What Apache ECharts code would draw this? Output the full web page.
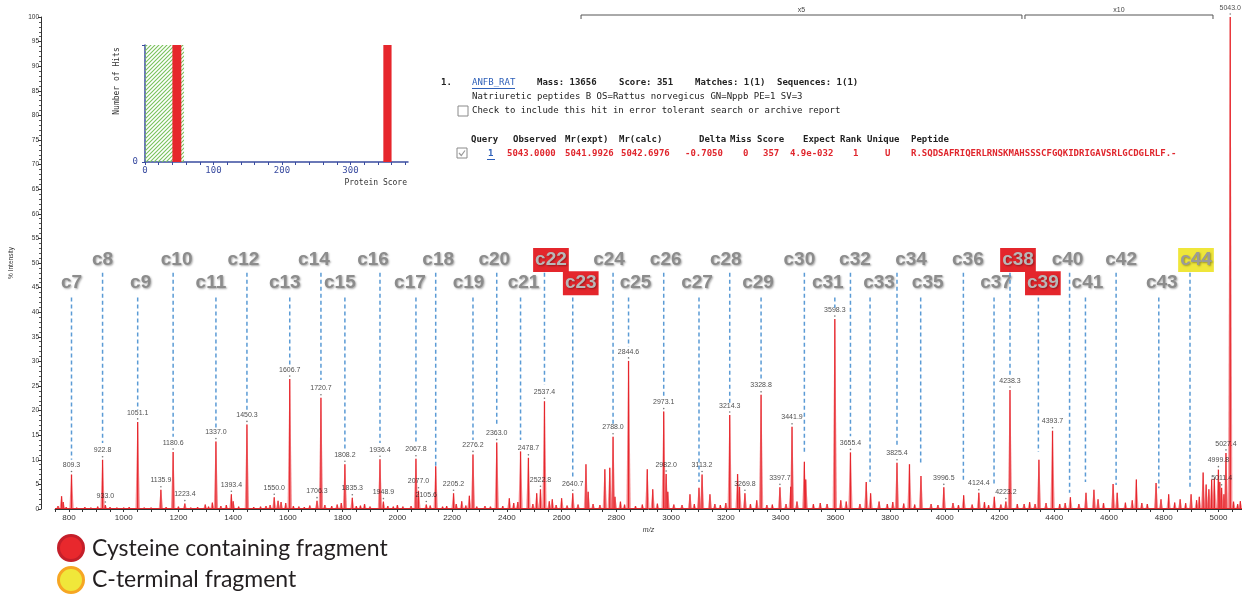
<!DOCTYPE html>
<html>
<head>
<meta charset="utf-8">
<script src="https://cdn.jsdelivr.net/npm/echarts@6/dist/echarts.min.js"></script>
<style>
html, body { margin: 0; padding: 0; background: #ffffff; }
#chart { width: 1242px; height: 597px; }
</style>
</head>
<body>
<div id="chart"></div>
<script>
// ---- MALDI spectrum: annotated peaks (m/z, % intensity) ----
const labeledMz = [809.3, 922.8, 933.0, 1051.1, 1135.9, 1180.6, 1223.4, 1337.0, 1393.4, 1450.3,
  1550.0, 1606.7, 1706.3, 1720.7, 1808.2, 1835.3, 1936.4, 1948.9, 2067.8, 2077.0,
  2105.6, 2205.2, 2276.2, 2363.0, 2478.7, 2522.8, 2537.4, 2640.7, 2788.0, 2844.6,
  2973.1, 2982.0, 3113.2, 3214.3, 3269.8, 3328.8, 3397.7, 3441.9, 3598.3, 3655.4,
  3825.4, 3996.5, 4124.4, 4223.2, 4238.3, 4393.7, 4999.8, 5011.4, 5027.4, 5043.0];
const labeledInt = [7.0, 10.0, 0.8, 17.7, 3.9, 11.6, 1.1, 13.7, 3.0, 17.2,
  2.4, 26.4, 1.7, 22.6, 9.1, 2.3, 10.1, 1.5, 10.2, 3.7,
  0.9, 3.2, 11.1, 13.5, 10.4, 4.0, 21.9, 3.2, 14.7, 30.1,
  19.8, 7.1, 7.0, 19.1, 3.2, 23.2, 4.4, 16.7, 38.6, 11.5,
  9.4, 4.4, 3.3, 1.5, 24.2, 15.9, 8.0, 4.3, 11.4, 100];

// ---- other visible peaks without a value label ----
const otherMz = [773, 779, 1298, 1324, 1400, 1564, 1592, 2140, 2263, 2409,
  2450, 2509, 2566, 2600, 2689, 2697, 2758, 2776, 2795, 2913,
  2933, 2988, 3069, 3102, 3142, 3243, 3250, 3313, 3437, 3487,
  3492, 3713, 3729, 3760, 3871, 3913, 4069, 4181, 4344, 4459,
  4516, 4545, 4615, 4630, 4700, 4772, 4818, 4900, 4944, 4955,
  4965, 4975, 4985, 5005, 5020];
const otherInt = [2.6, 1.4, 0.9, 1.3, 1.6, 1.7, 1.2, 8.7, 2.7, 2.2,
  11.7, 3.2, 2.0, 2.2, 9.1, 3.5, 8.1, 8.4, 2.5, 8.1,
  4.0, 3.5, 3.0, 4.3, 3.0, 7.1, 4.5, 1.8, 4.5, 9.6,
  6.0, 5.5, 3.2, 1.5, 9.1, 6.7, 2.8, 2.5, 10.0, 2.4,
  3.3, 3.9, 5.1, 3.3, 6.0, 5.3, 3.0, 3.0, 7.4, 5.0,
  4.0, 6.0, 6.2, 5.5, 3.0];

// ---- low-level baseline signals ----
const noiseMz = [760, 790, 828, 858, 880, 905, 950, 975, 1000, 1020, 1075, 1100, 1155, 1200, 1245,
  1270, 1310, 1355, 1375, 1420, 1475, 1500, 1520, 1535, 1575, 1620, 1640, 1660, 1680, 1735,
  1760, 1780, 1795, 1850, 1865, 1880, 1900, 1965, 1985, 2000, 2020, 2050, 2120, 2165, 2180,
  2215, 2235, 2250, 2290, 2320, 2340, 2385, 2425, 2440, 2495, 2555, 2580, 2620, 2660, 2715,
  2740, 2815, 2830, 2870, 2895, 2950, 3010, 3040, 3085, 3160, 3180, 3200, 3290, 3350, 3370,
  3420, 3460, 3520, 3545, 3570, 3620, 3640, 3690, 3790, 3810, 3850, 3890, 3950, 3975, 4030,
  4050, 4100, 4145, 4160, 4205, 4265, 4290, 4310, 4330, 4370, 4420, 4440, 4490, 4560, 4580,
  4660, 4685, 4720, 4740, 4790, 4840, 4860, 4880, 4920, 4930, 5055, 5070, 5080];
const noiseInt = [0.6, 0.4, 0.3, 0.4, 0.3, 0.5, 0.4, 0.3, 0.3, 0.4, 0.3, 0.3, 0.4, 0.5, 0.3,
  0.4, 0.5, 0.6, 0.8, 0.5, 0.4, 0.5, 0.6, 0.8, 1.4, 0.6, 0.5, 0.4, 0.7, 0.8,
  0.6, 0.9, 1.2, 0.6, 0.7, 1.0, 0.5, 0.6, 0.5, 0.8, 0.5, 0.6, 0.7, 0.5, 0.6,
  1.0, 1.6, 0.7, 0.5, 0.6, 0.5, 0.6, 1.2, 1.4, 1.0, 1.6, 0.8, 0.7, 0.9, 1.0,
  0.8, 1.5, 0.9, 0.6, 0.9, 1.1, 0.9, 0.8, 1.0, 1.0, 0.8, 1.2, 1.0, 0.8, 0.9,
  1.0, 1.5, 1.0, 1.2, 1.0, 1.8, 1.5, 1.0, 1.0, 1.4, 1.1, 0.9, 1.0, 0.8, 1.2,
  0.8, 0.9, 1.4, 0.8, 0.9, 1.0, 1.0, 1.4, 1.0, 1.2, 1.0, 1.2, 1.0, 2.0, 1.2,
  1.3, 1.8, 1.2, 1.0, 2.0, 1.3, 2.0, 1.2, 1.8, 2.5, 1.5, 1.0, 1.6];

// ---- c-ion ladder: fragment names, m/z, and where each dashed guide stops (% intensity) ----
const cIonNames = ['c7', 'c8', 'c9', 'c10', 'c11', 'c12', 'c13', 'c14', 'c15', 'c16',
  'c17', 'c18', 'c19', 'c20', 'c21', 'c22', 'c23', 'c24', 'c25', 'c26',
  'c27', 'c28', 'c29', 'c30', 'c31', 'c32', 'c33', 'c34', 'c35', 'c36',
  'c37', 'c38', 'c39', 'c40', 'c41', 'c42', 'c43', 'c44'];
const cIonMz = [809.3, 922.8, 1051.1, 1180.6, 1337.0, 1450.3, 1606.7, 1720.7, 1808.2, 1936.4,
  2067.8, 2140, 2276.2, 2363.0, 2450, 2537.4, 2640.7, 2788.0, 2844.6, 2973.1,
  3102, 3214.3, 3328.8, 3487, 3598.3, 3655.4, 3727, 3825.4, 3912, 4068,
  4180, 4238.3, 4342, 4456, 4514, 4626, 4782, 4896];
const cIonLineEnd = [10.0, 13.4, 20.1, 14.7, 16.4, 20.1, 29.3, 26.2, 12.3, 13.4,
  13.4, 8.5, 14.0, 16.7, 14.0, 25.2, 6.6, 16.7, 33.0, 22.8,
  5.5, 21.5, 25.9, 11.6, 40.9, 14.8, 5.5, 12.7, 9.3, 5.5,
  4.9, 26.9, 11.6, 3.3, 5.5, 4.9, 4.2, 4.2];
// fragment class: '' plain, 'cys' cysteine containing, 'cterm' C-terminal
const cIonClass = ['', '', '', '', '', '', '', '', '', '',
  '', '', '', '', '', 'cys', 'cys', '', '', '',
  '', '', '', '', '', '', '', '', '', '',
  '', 'cys', 'cys', '', '', '', '', 'cterm'];

// ---- axes ----
const xTickLabels = [800, 1000, 1200, 1400, 1600, 1800, 2000, 2200, 2400, 2600, 2800,
  3000, 3200, 3400, 3600, 3800, 4000, 4200, 4400, 4600, 4800, 5000];
const yTickLabels = [0, 5, 10, 15, 20, 25, 30, 35, 40, 45, 50, 55, 60, 65, 70, 75, 80, 85, 90, 95, 100];

// ---- zoom-factor brackets over the spectrum (m/z range) ----
const zoomBandStart = [2671, 4293];
const zoomBandEnd = [4282, 4980];
const zoomBandText = ['x5', 'x10'];

// ---- protein score histogram (inset) ----
const scoreBarFrom = [0, 40, 348];
const scoreBarTo = [57, 53, 360];
const scoreBarKind = ['threshold', 'hit', 'hit'];
const scoreTickLabels = [0, 100, 200, 300];

// ---------------- layout constants ----------------
const RED = '#e6262c';
const LADDER_LINE_TOP = [43.0, 48.0];   // lower row, upper row
const LADDER_LABEL_Y = [45.9, 50.6];
// horizontal nudge (px) of each ladder label relative to its guide line
const ladderLabelNudge = [0, 0, 3, 3.5, -5, -3.5, -5, -7, -5, -7,
  -6, 2.5, -4.5, -2.5, 3, 6.5, 8, -4, 7, 2,
  -2, -4, -3, -5, -7, 4.5, 9, 14, 7, 4.5,
  2, 8, 4.5, -2, 2, 5, 3, 6];

const xMinorTicks = [];
for (let v = 750; v <= 5050; v += 50) xMinorTicks.push(v);
const scoreTicks = [];
for (let v = 0; v <= 380; v += 20) scoreTicks.push(v);

const peakData = labeledMz.map((m, i) => [m, labeledInt[i]])
  .concat(otherMz.map((m, i) => [m, otherInt[i]]))
  .concat(noiseMz.map((m, i) => [m, noiseInt[i]]));
const labelData = labeledMz.map((m, i) => [m, labeledInt[i]]);
const ladderData = cIonMz.map((m, i) => [m, cIonLineEnd[i]]);
const bandData = zoomBandStart.map((s, i) => [s, zoomBandEnd[i]]);
const scoreData = scoreBarFrom.map((f, i) => [f, scoreBarTo[i]]);

// diagonal green hatch used for the random-match region of the histogram
const hatch = document.createElement('canvas');
hatch.width = 4; hatch.height = 4;
(function () {
  const g = hatch.getContext('2d');
  g.strokeStyle = '#79c25a';
  g.lineWidth = 1.1;
  g.beginPath();
  g.moveTo(0, 4); g.lineTo(4, 0);
  g.moveTo(-1, 1); g.lineTo(1, -1);
  g.moveTo(3, 5); g.lineTo(5, 3);
  g.stroke();
})();

function renderPeak(params, api) {
  const top = api.coord([api.value(0), api.value(1)]);
  const base = api.coord([api.value(0), 0]);
  return {
    type: 'group',
    children: [
      { type: 'polygon', shape: { points: [[base[0] - 2.2, base[1]], [top[0] - 0.3, top[1]], [top[0] + 0.3, top[1]], [base[0] + 2.2, base[1]]] },
        style: { fill: 'rgba(238, 70, 78, 0.6)' } },
      { type: 'line', shape: { x1: top[0], y1: top[1], x2: base[0], y2: base[1] },
        style: { stroke: RED, lineWidth: 1.3 } }
    ]
  };
}

function renderLadder(params, api) {
  const i = params.dataIndex;
  const row = i % 2;                 // 0 = lower row (odd c numbers), 1 = upper row
  const x = api.coord([api.value(0), 0])[0];
  const y0 = api.coord([api.value(0), LADDER_LINE_TOP[row]])[1];
  const y1 = api.coord([api.value(0), api.value(1)])[1];
  const yl = api.coord([api.value(0), LADDER_LABEL_Y[row]])[1];
  const kind = cIonClass[i];
  const textStyle = {
    text: cIonNames[i], x: x + ladderLabelNudge[i], y: yl,
    align: 'center', verticalAlign: 'middle',
    fontSize: 19, fontWeight: 'bold', fontFamily: 'Liberation Sans, Arial, sans-serif',
    fill: '#8c8c8c',
    textShadowColor: 'rgba(0,0,0,0.35)', textShadowBlur: 2, textShadowOffsetX: 1, textShadowOffsetY: 1
  };
  if (kind === 'cys') {
    textStyle.backgroundColor = '#e4262c';
    textStyle.padding = [3, 2, 2, 2];
    textStyle.fill = '#b8b8b8';
  } else if (kind === 'cterm') {
    textStyle.backgroundColor = '#efe63a';
    textStyle.padding = [3, 2, 2, 2];
    textStyle.fill = '#9a9a9a';
  }
  return {
    type: 'group',
    children: [
      { type: 'line', shape: { x1: x, y1: y0, x2: x, y2: y1 },
        style: { stroke: '#5b9bd5', lineWidth: 1.5, lineDash: [4, 3] } },
      { type: 'text', style: textStyle }
    ]
  };
}

function renderBand(params, api) {
  const a = api.coord([api.value(0), 100]);
  const b = api.coord([api.value(1), 100]);
  const y = a[1] - 2;
  return {
    type: 'group',
    children: [
      { type: 'polyline', shape: { points: [[a[0], y + 4], [a[0], y], [b[0], y], [b[0], y + 4]] },
        style: { stroke: '#555', lineWidth: 1, fill: null } },
      { type: 'text', style: { text: zoomBandText[params.dataIndex], x: (a[0] + b[0]) / 2, y: y - 5,
        align: 'center', verticalAlign: 'middle', fontSize: 7, fontFamily: 'Liberation Sans', fill: '#444' } }
    ]
  };
}

function renderScoreBar(params, api) {
  const p0 = api.coord([api.value(0), 1]);
  const p1 = api.coord([api.value(1), 0]);
  const kind = scoreBarKind[params.dataIndex];
  return {
    type: 'rect',
    shape: { x: p0[0], y: p0[1], width: p1[0] - p0[0], height: p1[1] - p0[1] },
    style: kind === 'hit' ? { fill: RED } : { fill: { image: hatch, repeat: 'repeat' } }
  };
}

const mono = '"DejaVu Sans Mono", "Liberation Mono", monospace';
function txt(x, y, text, opts) {
  opts = opts || {};
  return {
    type: 'text', x: x, y: y, silent: true, z: 50,
    style: {
      text: text,
      font: (opts.bold ? 'bold ' : '') + (opts.size || 9) + 'px ' + (opts.family || mono),
      fill: opts.color || '#222',
      align: opts.align || 'left',
      verticalAlign: 'middle'
    },
    rotation: opts.rotation || 0
  };
}
function box(x, y, checked) {
  const els = [{ type: 'rect', shape: { x: x, y: y, width: 10, height: 10 }, silent: true, z: 50,
    style: { fill: '#fff', stroke: '#8a8a8a', lineWidth: 1 } }];
  if (checked) {
    els.push({ type: 'polyline', shape: { points: [[x + 2, y + 5], [x + 4.3, y + 7.5], [x + 8, y + 2.5]] }, silent: true, z: 51,
      style: { stroke: '#9a9a9a', lineWidth: 1.2, fill: null } });
  }
  return els;
}

const mascotRed = '#e0262d';
const legendFont = 'Lato, "Open Sans", sans-serif';
const graphics = [].concat(
  // hit summary
  [txt(441, 83, '1.', { bold: true }),
   txt(472, 83, 'ANFB_RAT', { color: '#2d5fb8' }),
   { type: 'line', shape: { x1: 472, y1: 88.5, x2: 515, y2: 88.5 }, z: 50, style: { stroke: '#2d5fb8', lineWidth: 1 } },
   txt(537, 83, 'Mass: 13656', { bold: true }),
   txt(619, 83, 'Score: 351', { bold: true }),
   txt(695, 83, 'Matches: 1(1)', { bold: true }),
   txt(777, 83, 'Sequences: 1(1)', { bold: true }),
   txt(472, 97, 'Natriuretic peptides B OS=Rattus norvegicus GN=Nppb PE=1 SV=3'),
   txt(472, 111, 'Check to include this hit in error tolerant search or archive report')],
  box(458, 106, false),
  // peptide match table
  [txt(471, 140, 'Query', { bold: true }),
   txt(513, 140, 'Observed', { bold: true }),
   txt(565, 140, 'Mr(expt)', { bold: true }),
   txt(619, 140, 'Mr(calc)', { bold: true }),
   txt(699, 140, 'Delta', { bold: true }),
   txt(730, 140, 'Miss', { bold: true }),
   txt(757, 140, 'Score', { bold: true }),
   txt(803, 140, 'Expect', { bold: true }),
   txt(840, 140, 'Rank', { bold: true }),
   txt(867, 140, 'Unique', { bold: true }),
   txt(911, 140, 'Peptide', { bold: true }),
   txt(488, 154, '1', { color: '#2d5fb8', bold: true }),
   { type: 'line', shape: { x1: 487, y1: 159.5, x2: 495, y2: 159.5 }, z: 50, style: { stroke: '#2d5fb8', lineWidth: 1 } },
   txt(507, 154, '5043.0000', { bold: true, color: mascotRed }),
   txt(565, 154, '5041.9926', { bold: true, color: mascotRed }),
   txt(621, 154, '5042.6976', { bold: true, color: mascotRed }),
   txt(685, 154, '-0.7050', { bold: true, color: mascotRed }),
   txt(743, 154, '0', { bold: true, color: mascotRed }),
   txt(763, 154, '357', { bold: true, color: mascotRed }),
   txt(790, 154, '4.9e-032', { bold: true, color: mascotRed }),
   txt(853, 154, '1', { bold: true, color: mascotRed }),
   txt(885, 154, 'U', { bold: true, color: mascotRed }),
   txt(911, 154, 'R.SQDSAFRIQERLRNSKMAHSSSCFGQKIDRIGAVSRLGCDGLRLF.-', { bold: true, color: mascotRed })],
  box(457, 148, true),
  // inset axis titles
  [txt(407, 183, 'Protein Score', { size: 8, align: 'right', color: '#333' }),
   txt(117, 81, 'Number of Hits', { size: 8, align: 'center', color: '#333', rotation: Math.PI / 2 })],
  // legend
  [{ type: 'circle', shape: { cx: 71, cy: 548, r: 12.5 }, z: 50, style: { fill: '#e8282d', stroke: '#c41f2a', lineWidth: 3 } },
   { type: 'circle', shape: { cx: 71, cy: 580, r: 12.5 }, z: 50, style: { fill: '#f0e73a', stroke: '#f6a623', lineWidth: 3 } },
   txt(92, 549, 'Cysteine containing fragment', { size: 23, family: legendFont, color: '#231f20' }),
   txt(92, 580, 'C-terminal fragment', { size: 23, family: legendFont, color: '#231f20' })]
);

const chart = echarts.init(document.getElementById('chart'), null, { renderer: 'canvas' });
chart.setOption({
  animation: false,
  backgroundColor: '#ffffff',
  grid: [
    { left: 55, right: 0, top: 17, bottom: 88 },
    { left: 145, top: 45, width: 263, height: 117 }
  ],
  xAxis: [
    {
      gridIndex: 0, type: 'value', min: 749, max: 5086,
      axisLine: { lineStyle: { color: '#333', width: 1 } },
      axisTick: { customValues: xMinorTicks, length: 3, lineStyle: { color: '#333' } },
      axisLabel: { customValues: xTickLabels, formatter: v => String(v), fontSize: 8, color: '#333', margin: 5, fontFamily: 'Liberation Sans' },
      splitLine: { show: false },
      name: 'm/z', nameLocation: 'middle', nameGap: 15,
      nameTextStyle: { fontSize: 7, fontStyle: 'italic', color: '#333', fontFamily: 'Liberation Sans' }
    },
    {
      gridIndex: 1, type: 'value', min: 0, max: 384,
      axisLine: { onZero: false, lineStyle: { color: '#3a4ca0', width: 1.5 } },
      axisTick: { customValues: scoreTicks, length: 3, lineStyle: { color: '#3a4ca0' } },
      axisLabel: { customValues: scoreTickLabels, formatter: v => String(v), fontSize: 9, color: '#3a4ca0', margin: 4, fontFamily: mono },
      splitLine: { show: false }
    }
  ],
  yAxis: [
    {
      gridIndex: 0, type: 'value', min: 0, max: 100, interval: 5, offset: 14,
      axisLine: { show: true, lineStyle: { color: '#333', width: 1 } },
      axisTick: { show: true, length: 3, lineStyle: { color: '#333' } },
      minorTick: { show: true, splitNumber: 5, length: 2, lineStyle: { color: '#555' } },
      axisLabel: { formatter: v => String(v), fontSize: 6.5, color: '#333', margin: 2, fontFamily: 'Liberation Sans' },
      splitLine: { show: false },
      name: '% Intensity', nameLocation: 'middle', nameGap: 26, nameRotate: 90,
      nameTextStyle: { fontSize: 6.5, color: '#333', fontFamily: 'Liberation Sans' }
    },
    {
      gridIndex: 1, type: 'value', min: 0, max: 1,
      axisLine: { show: true, onZero: false, lineStyle: { color: '#3a4ca0', width: 1.5 } },
      axisTick: { show: true, customValues: [0, 1], length: 3, lineStyle: { color: '#3a4ca0' } },
      axisLabel: { customValues: [0], fontSize: 9, color: '#3a4ca0', margin: 7, fontFamily: mono },
      splitLine: { show: false }
    }
  ],
  series: [
    {
      name: 'spectrum', type: 'custom', xAxisIndex: 0, yAxisIndex: 0,
      data: peakData, renderItem: renderPeak, silent: true, z: 3,
      markLine: {
        silent: true, symbol: 'none', label: { show: false },
        lineStyle: { color: RED, width: 1, type: 'solid' },
        data: [{ yAxis: 0.25 }]
      }
    },
    {
      name: 'peak labels', type: 'scatter', xAxisIndex: 0, yAxisIndex: 0,
      data: labelData, symbol: 'circle', symbolSize: 1.6, symbolOffset: [0, -3],
      itemStyle: { color: '#555' }, silent: true, z: 5,
      label: {
        show: true, position: 'top', distance: 2,
        formatter: p => p.value[0].toFixed(1),
        fontSize: 7, color: '#222', fontFamily: 'Liberation Sans'
      }
    },
    {
      name: 'c-ion ladder', type: 'custom', xAxisIndex: 0, yAxisIndex: 0,
      data: ladderData, renderItem: renderLadder, silent: true, z: 6
    },
    {
      name: 'zoom brackets', type: 'custom', xAxisIndex: 0, yAxisIndex: 0,
      data: bandData, renderItem: renderBand, silent: true, z: 6, clip: false
    },
    {
      name: 'protein score', type: 'custom', xAxisIndex: 1, yAxisIndex: 1,
      data: scoreData, renderItem: renderScoreBar, silent: true, z: 4
    }
  ],
  graphic: graphics
});
</script>
</body>
</html>
